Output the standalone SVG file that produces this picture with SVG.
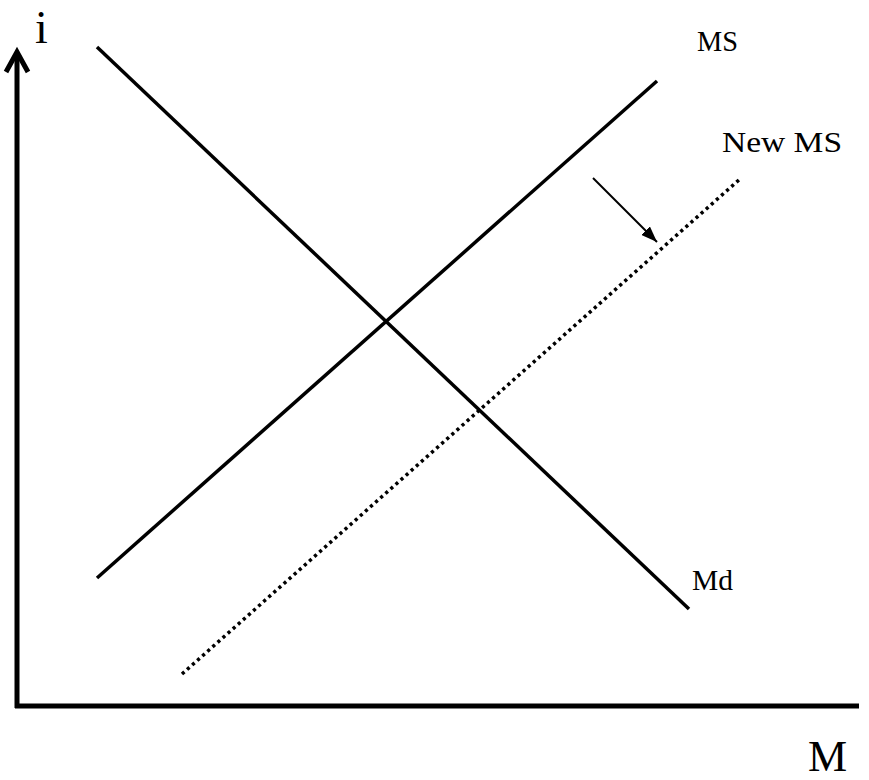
<svg xmlns="http://www.w3.org/2000/svg" width="869" height="780" viewBox="0 0 869 780">
  <style>
    .axis { stroke: #000; stroke-width: 5; fill: none; }
    .curve { stroke: #000; stroke-width: 3.5; fill: none; stroke-linecap: butt; }
    .dotted { stroke: #000; stroke-width: 3.5; fill: none; stroke-dasharray: 3.2 3.6; }
    .label { font-family: "Liberation Serif", "DejaVu Serif", serif; fill: #000; }
  </style>
  <defs>
    <marker id="shiftHead" viewBox="0 0 16 12" refX="16" refY="6" markerWidth="16" markerHeight="12" markerUnits="userSpaceOnUse" orient="auto">
      <path d="M0,0 L16,6 L0,12 z" fill="#000"/>
    </marker>
  </defs>

  <!-- axes -->
  <g id="axes">
    <line class="axis" x1="17" y1="708" x2="17" y2="54" stroke-width="4.5"/>
    <polyline class="axis" points="6,72 17,52 28,72" stroke-width="4.5" stroke-linejoin="miter"/>
    <line class="axis" x1="15" y1="706" x2="859" y2="706"/>
    <text class="label" x="35" y="43" font-size="46">i</text>
    <text class="label" x="808" y="771" font-size="44">M</text>
  </g>

  <!-- curves -->
  <g id="connectors">
    <line id="md-line" class="curve" x1="97" y1="47" x2="689" y2="609"/>
    <line id="ms-line" class="curve" x1="97" y1="578" x2="657" y2="81"/>
    <line id="new-ms-line" class="dotted" x1="182" y1="674" x2="740" y2="179"/>
    <line id="shift-arrow" stroke="#000" stroke-width="2" x1="593" y1="178" x2="657" y2="242" marker-end="url(#shiftHead)"/>
  </g>

  <g id="label-ms"><text class="label" x="697" y="51" font-size="29" textLength="41" lengthAdjust="spacingAndGlyphs">MS</text></g>
  <g id="label-new-ms"><text class="label" x="722" y="152" font-size="29" textLength="120" lengthAdjust="spacingAndGlyphs">New MS</text></g>
  <g id="label-md"><text class="label" x="692" y="590" font-size="29" textLength="41" lengthAdjust="spacingAndGlyphs">Md</text></g>
</svg>
